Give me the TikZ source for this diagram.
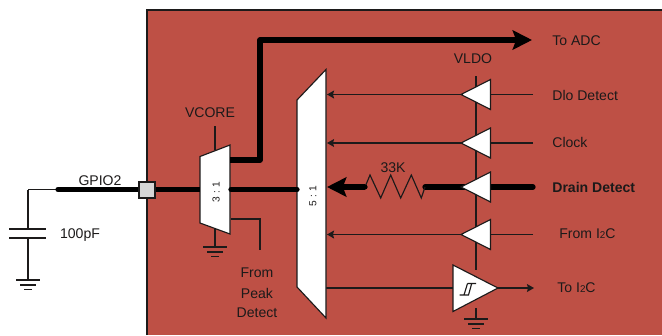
\documentclass[tikz,border=0pt]{standalone}
\usepackage{fontspec}
\setmainfont{Liberation Sans}
\usepackage{xcolor}
\usetikzlibrary{arrows.meta, positioning}
\definecolor{chipred}{HTML}{BE5045}
\definecolor{ink}{HTML}{1C1A1A}
\definecolor{pingray}{HTML}{D6D6D6}
\tikzset{
  thin wire/.style={line width=0.65pt, color=ink},
  fat wire/.style={line width=3pt, color=black, line cap=round},
  gnd bar/.style={line width=0.8pt, color=ink},
  blockshape/.style={draw=ink, line width=0.65pt, fill=white},
  small tip/.style={-{Stealth[length=4pt, width=4.5pt, inset=0.6pt]}},
  big tip/.style={-{Stealth[length=11pt, width=11pt, inset=2pt]}},
  lbl/.style={font=\fontsize{8}{10}\selectfont, color=ink, inner sep=0pt},
  lblw/.style={lbl, anchor=west},
  muxlbl/.style={font=\fontsize{5.8}{7}\selectfont, color=ink, rotate=90, inner sep=0pt}
}
\newcommand{\smalltwo}{{\fontsize{5.6}{7}\selectfont 2}}
\begin{document}
\begin{tikzpicture}[x=0.02cm, y=-0.02cm]
\useasboundingbox (0,0) rectangle (662,335);
% chip body
\fill[chipred] (147,10) rectangle (662,335);
\draw[line width=0.9pt, color=ink] (147,335) -- (147,10) -- (662,10);
% fixed points
\coordinate (capnode) at (28,189.5);
\coordinate (padstub) at (58,189.5);
\coordinate (capgnd) at (28,279);
\coordinate (muxAin) at (200,189.5);
\coordinate (muxAout) at (231,189.5);
\coordinate (muxAadc) at (230,160);
\coordinate (muxBin) at (297,189.5);
\coordinate (adcend) at (532,40);
\coordinate (peak) at (231,219);
\coordinate (peakend) at (260,250);
\coordinate (vcoretop) at (215,126);
\coordinate (vcorebot) at (215,150);
\coordinate (muxAgnd) at (215,246);
\coordinate (muxAbot) at (215,228);
\coordinate (vldotop) at (476,76);
\coordinate (vldobot) at (476,270);
\coordinate (schmittgnd) at (476,319);
\coordinate (schmittbot) at (476,308);
% ground and VLDO rails
\draw[thin wire] (vcoretop) -- (vcorebot);
\draw[thin wire] (muxAbot) -- (muxAgnd);
\draw[thin wire] (vldotop) -- (vldobot);
\draw[thin wire] (schmittbot) -- (schmittgnd);
\draw[thin wire] (peak) -| (peakend);
\draw[thin wire] (capnode) -- (padstub);
\draw[thin wire] (capnode) -- (28,229);
\draw[thin wire] (28,238) -- (capgnd);
\draw[line width=0.8pt, color=ink] (9,229) -- (46,229) (9,238) -- (46,238);
\foreach \gx/\gy in {28/280, 215/247, 476/319}{
  \draw[gnd bar] (\gx-12,\gy) -- (\gx+12,\gy);
  \draw[gnd bar] (\gx-8,\gy+5) -- (\gx+8,\gy+5);
  \draw[gnd bar] (\gx-4,\gy+9.5) -- (\gx+4,\gy+9.5);
}
% inputs through the buffers
\foreach \n/\y in {dlo/94.5, clk/143, i2c/234.5}{
  \coordinate (\n in) at (533,\y);
  \coordinate (\n tip) at (461,\y);
  \coordinate (\n end) at (327,\y);
  \draw[thin wire] (\n in) -- (\n tip);
  \draw[thin wire, small tip] (\n tip) -- (\n end);
}
% drain detect path
\coordinate (drainin) at (533,187);
\coordinate (draintip) at (461,187);
\coordinate (resright) at (425,187);
\coordinate (resleft) at (365,187);
\coordinate (drainend) at (327,187);
\draw[fat wire] (drainin) -- (draintip) -- (resright);
\draw[line width=0.65pt, color=ink] (resright) -- (421.3,198) -- (411.3,175) -- (400.7,198) -- (390.7,175) -- (380.7,198) -- (370,175) -- (resleft);
\draw[line width=3pt, color=black, big tip] (resleft) -- (drainend);
\fill[black] (resleft) circle (2.6);
% to I2C
\coordinate (rxout) at (326,288);
\coordinate (rxin) at (453,288);
\coordinate (rxtip) at (498,288);
\coordinate (rxend) at (534,288);
\draw[thin wire] (rxout) -- (rxin);
\draw[thin wire, small tip] (rxtip) -- (rxend);
% buffers
\foreach \y in {94.5, 143, 187, 234.5}{
  \draw[blockshape] (461,\y) -- (490.5,\y-15) -- (490.5,\y+15) -- cycle;
}
\draw[blockshape] (453,265) -- (498,288) -- (453,311.5) -- cycle;
\draw[line width=0.65pt, color=ink] (459.5,295) -- (468.5,295) -- (471.7,283.5) -- (476,283.5) (467.5,283.5) -- (471.7,283.5) (467.5,283.5) -- (464,295);
% muxes
\draw[blockshape] (200,156.5) -- (230,145) -- (230,234) -- (200,223) -- cycle;
\draw[blockshape] (297,100) -- (326,69.5) -- (326,318) -- (297,287) -- cycle;
\node[muxlbl] (muxAlbl) at (216,192) {3 : 1};
\node[muxlbl] (muxBlbl) at (313,196) {5 : 1};
% thick GPIO run
\draw[fat wire] (padstub) -- (147,189.5);
\draw[fat wire, line cap=butt] (147,189.5) -- (muxAin);
\draw[fat wire] (muxAout) -- (muxBin);
\draw[line width=3pt, color=black, line join=round, big tip] (muxAadc) -| (260,40) -- (adcend);
% pad
\node[draw=ink, line width=0.8pt, fill=pingray, minimum size=9pt, inner sep=0pt] (pad) at (147,190) {};
% labels
\node[lbl] (gpio) at (100,181) {GPIO2};
\node[lbl] (capval) at (80,235.5) {100pF};
\node[lbl] (vcore) at (210,113) {VCORE};
\node[lbl] (from) at (257,273) {From};
\node[lbl] (peaklbl) at (257,293) {Peak};
\node[lbl] (detect) at (257,313) {Detect};
\node[lbl] (vldo) at (473,59) {VLDO};
\node[lbl] (rval) at (393,168) {33K};
\node[lblw] (toadc) at (552,41) {To ADC};
\node[lblw] (dlo) at (552,95) {Dlo Detect};
\node[lblw] (clock) at (552,142) {Clock};
\node[lblw, font=\fontsize{8}{10}\selectfont\bfseries] (drain) at (552,187) {Drain Detect};
\node[lblw] (fromi2c) at (559,234) {From I\smalltwo C};
\node[lblw] (toi2c) at (557,288) {To I\smalltwo C};
\end{tikzpicture}
\end{document}
